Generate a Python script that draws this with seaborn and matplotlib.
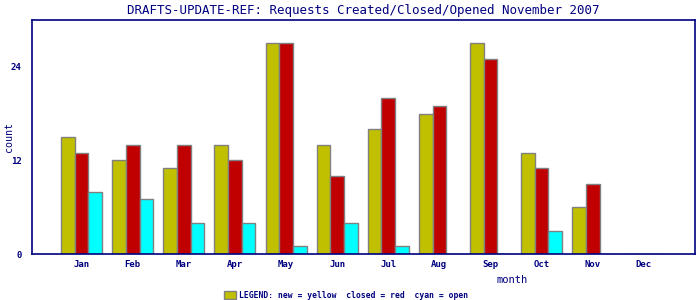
import matplotlib
matplotlib.use("Agg")
import matplotlib.pyplot as plt
import seaborn as sns
import pandas as pd
from matplotlib.patches import Rectangle

months = ["Jan", "Feb", "Mar", "Apr", "May", "Jun", "Jul", "Aug", "Sep", "Oct", "Nov", "Dec"]
new_vals = [15, 12, 11, 14, 27, 14, 16, 18, 27, 13, 6, 0]
closed_vals = [13, 14, 14, 12, 27, 10, 20, 19, 25, 11, 9, 0]
open_vals = [8, 7, 4, 4, 1, 4, 1, 0, 0, 3, 0, 0]
series = ["new", "closed", "open"]
colors = ["#C0C000", "#C00000", "#00FFFF"]
yticks = [0, 12, 24]
minor_yticks = [6, 18]

sns.set_style("white")
plt.rcParams["font.family"] = ["DejaVu Sans Mono"]
navy = "#000080"

df = pd.DataFrame({
    "month": months * 3,
    "count": new_vals + closed_vals + open_vals,
    "series": [series[0]] * 12 + [series[1]] * 12 + [series[2]] * 12,
})

fig = plt.figure(figsize=(7, 3), dpi=100)
ax = fig.add_axes([32 / 700, 1 - 254 / 300, (695 - 32) / 700, (254 - 20) / 300])
sns.barplot(data=df, x="month", y="count", hue="series", order=months,
            hue_order=series, palette=colors, edgecolor="#808080",
            linewidth=1.0, width=0.8, ax=ax, legend=False, saturation=1)

ax.set_xlim(-0.97, 12.0)
ax.set_ylim(0, 30)
ax.set_yticks(yticks)
ax.set_yticks(minor_yticks, minor=True)
ax.tick_params(axis="y", which="both", direction="out", length=4, color=navy,
               labelcolor=navy, labelsize=6.5, width=1)
ax.tick_params(axis="x", which="both", length=0, labelcolor=navy, labelsize=6.5, pad=4)
for lbl in ax.get_xticklabels() + ax.get_yticklabels():
    lbl.set_fontweight("bold")
for sp in ax.spines.values():
    sp.set_color(navy)
    sp.set_linewidth(1.2)
    sp.set_visible(True)

ax.set_xlabel("month", color=navy, fontsize=7.5)
ax.xaxis.set_label_coords(0.724, -0.09)
ax.set_ylabel("count", color=navy, fontsize=7.2)
ax.yaxis.set_label_coords(-0.027, 0.5)
ax.set_title("DRAFTS-UPDATE-REF: Requests Created/Closed/Opened November 2007",
             color=navy, fontsize=9, pad=4)

fig.patches.append(Rectangle((224 / 700, 1 - 299 / 300), 12 / 700, 8 / 300,
                             transform=fig.transFigure, facecolor=colors[0],
                             edgecolor="#808080", linewidth=1))
fig.text(239 / 700, 1 - 295 / 300, "LEGEND: new = yellow  closed = red  cyan = open",
         color=navy, fontsize=5.8, fontweight="bold", va="center", ha="left")

fig.savefig("out.png", dpi=100, facecolor="white")
